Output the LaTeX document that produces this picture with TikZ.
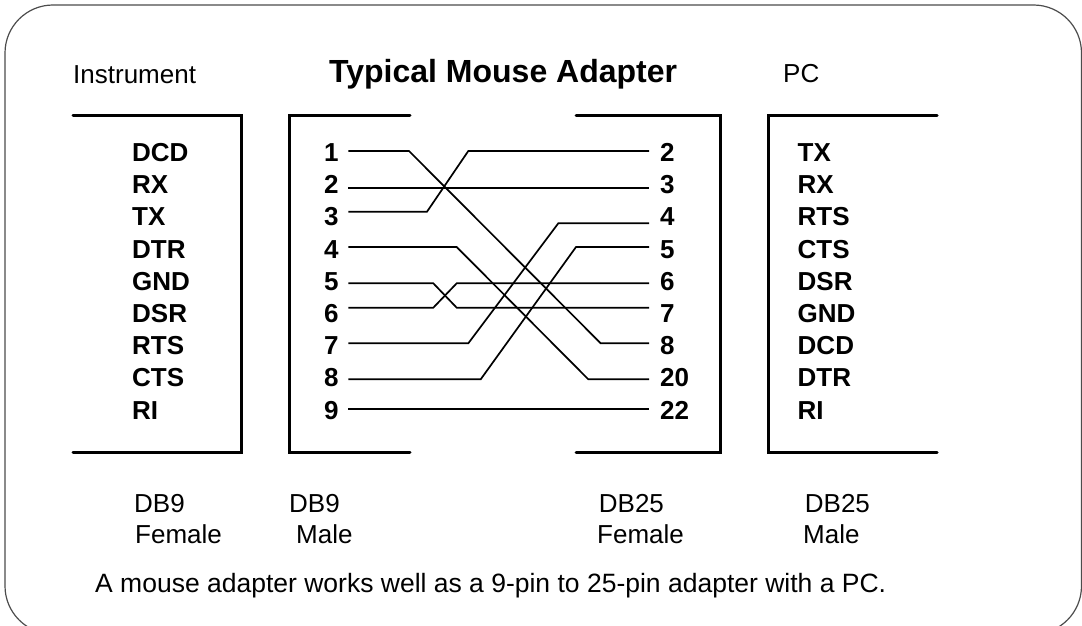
\documentclass[tikz,border=0pt]{standalone}
\usepackage{fontspec}
\setmainfont{Liberation Sans}
\newcommand{\regf}{\fontsize{26}{30}\selectfont}
\newcommand{\bldf}{\fontsize{26}{30}\selectfont\bfseries}
\tikzset{
  x=1pt,y=-1pt,
  plain/.style={anchor=base west,inner sep=0pt,font=\regf,text=black},
  note/.style={anchor=base west,inner sep=0pt,font=\fontsize{26.5}{30}\selectfont,text=black},
  sig/.style={anchor=base west,inner sep=0pt,font=\bldf,text=black},
  titletext/.style={anchor=base west,inner sep=0pt,font=\fontsize{32}{36}\selectfont\bfseries,text=black},
  pinl/.style={inner sep=0pt,anchor=west,text width=24pt,font=\bldf,text=black},
  pinr/.style={inner sep=0pt,anchor=west,text width=40pt,font=\bldf,text=black},
  wire/.style={draw=black,line width=1.7pt,line join=miter},
  shell/.style={draw=black,line width=3pt,line cap=round,line join=miter},
  frame/.style={draw=black!70,line width=1.2pt,rounded corners=48pt}
}
\newcommand{\pinL}[4]{\pgfmathsetmacro{\hh}{2*(#3-#4)}\node[pinl,text height=\hh pt,text depth=0pt] (#1) at (324,#4) {#2};}
\newcommand{\pinR}[4]{\pgfmathsetmacro{\hh}{2*(#3-#4)}\node[pinr,text height=\hh pt,text depth=0pt] (#1) at (649,#4) {\hspace*{11pt}#2};}
\begin{document}
\begin{tikzpicture}
\useasboundingbox (0,0) rectangle (1082,626);
\clip (0,0) rectangle (1082,626);
\draw[frame] (5,5) rectangle (1081.5,634);
\node[plain] (instr) at (73,83.3) {Instrument};
\node[titletext] (ttl) at (329,83) {Typical Mouse Adapter};
\node[plain] (pc) at (783,83) {PC};
% shells
\draw[shell] (73,115.3) -- (241,115.3) -- (241,452) -- (73,452);
\draw[shell] (410,115.3) -- (289,115.3) -- (289,452) -- (410,452);
\draw[shell] (576,115.3) -- (720,115.3) -- (720,452) -- (576,452);
\draw[shell] (937,115.3) -- (768,115.3) -- (768,452) -- (937,452);
% signals
\foreach \n/\t/\b in {a/DCD/161.5,b/RX/193.7,c/TX/225.9,d/DTR/258.1,e/GND/290.3,f/DSR/322.5,g/RTS/354.7,h/CTS/386.9,i/RI/419.1}
  \node[sig] (s\n) at (132,\b) {\t};
\foreach \n/\t/\b in {a/TX/161.5,b/RX/193.7,c/RTS/225.9,d/CTS/258.1,e/DSR/290.3,f/GND/322.5,g/DCD/354.7,h/DTR/386.9,i/RI/419.1}
  \node[sig] (p\n) at (797.5,\b) {\t};
% pins
\pinL{la}{1}{161.5}{151}
\pinL{lb}{2}{193.7}{187.7}
\pinL{lc}{3}{225.9}{211.7}
\pinL{ld}{4}{258.1}{247}
\pinL{le}{5}{290.3}{283.3}
\pinL{lf}{6}{322.5}{307.7}
\pinL{lg}{7}{354.7}{343.3}
\pinL{lh}{8}{386.9}{379.3}
\pinL{li}{9}{419.1}{409.3}
\pinR{ra}{2}{161.5}{151}
\pinR{rb}{3}{193.7}{187.7}
\pinR{rc}{4}{225.9}{223.3}
\pinR{rd}{5}{258.1}{247}
\pinR{re}{6}{290.3}{283.3}
\pinR{rf}{7}{322.5}{307.7}
\pinR{rg}{8}{354.7}{343.3}
\pinR{rh}{20}{386.9}{379.3}
\pinR{ri}{22}{419.1}{409.3}
% wires
\draw[wire] (la.east) -- (409,151) -- (600.7,343.3) -- (rg.west);
\draw[wire] (lb.east) -- (rb.west);
\draw[wire] (lc.east) -- (427,211.7) -- (468.3,151) -- (ra.west);
\draw[wire] (ld.east) -- (456.7,247) -- (588.3,379.3) -- (rh.west);
\draw[wire] (le.east) -- (433.3,283.3) -- (456.7,307.7) -- (rf.west);
\draw[wire] (lf.east) -- (433.3,307.7) -- (456.7,283.3) -- (re.west);
\draw[wire] (lg.east) -- (468.3,343.3) -- (558.3,223.3) -- (rc.west);
\draw[wire] (lh.east) -- (480.7,379.3) -- (576,247) -- (rd.west);
\draw[wire] (li.east) -- (ri.west);
% footers
\node[plain] (c1a) at (134,512) {DB9};
\node[plain] (c1b) at (135,543) {Female};
\node[plain] (c2a) at (289,512) {DB9};
\node[plain] (c2b) at (296,543) {Male};
\node[plain] (c3a) at (598.7,512) {DB25};
\node[plain] (c3b) at (597,543) {Female};
\node[plain] (c4a) at (804.7,512) {DB25};
\node[plain] (c4b) at (803,543) {Male};
\node[note] (cap) at (95,592) {A mouse adapter works well as a 9-pin to 25-pin adapter with a PC.};
\end{tikzpicture}
\end{document}
